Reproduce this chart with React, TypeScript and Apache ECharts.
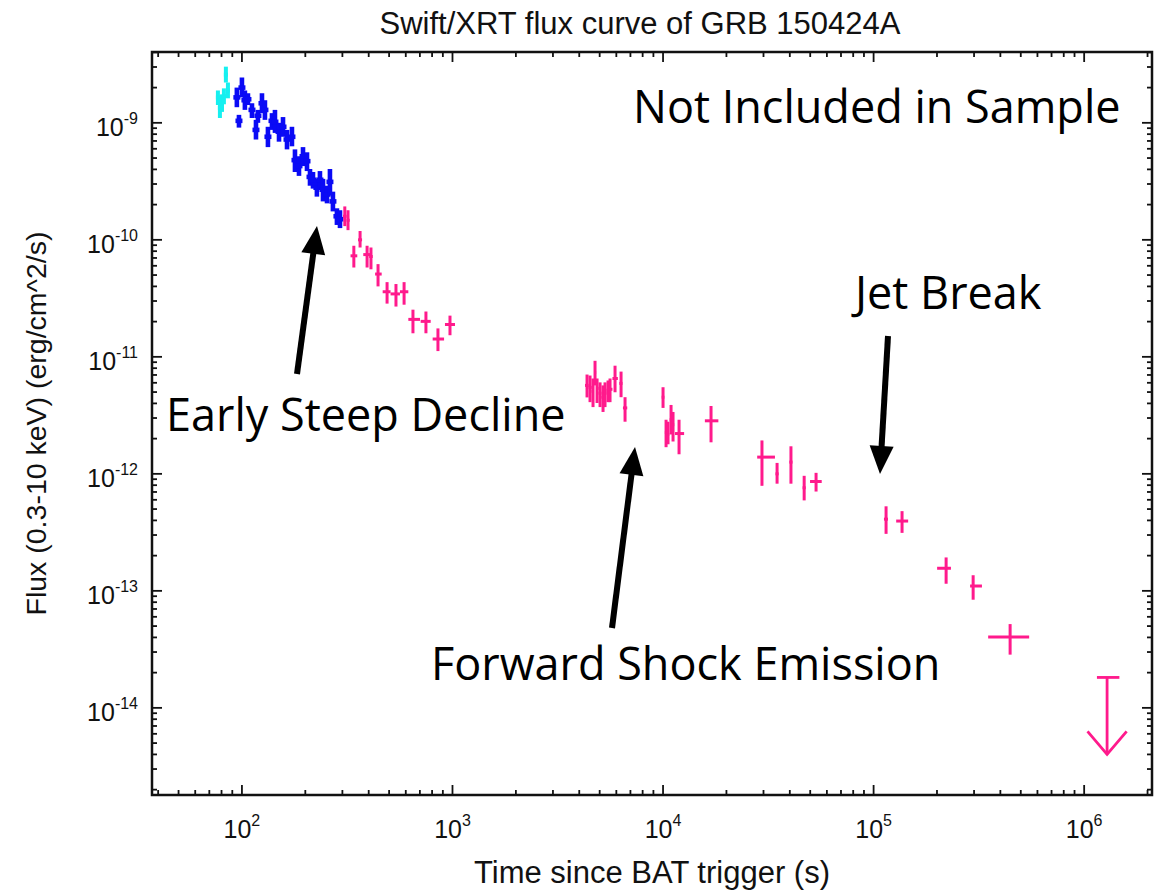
import React, { useEffect, useRef } from "react";
import * as echarts from "echarts";

// Axis ranges (log scales)
const X_MIN = 37.4;
const X_MAX = 2.1e6;
const Y_MIN = 1.8e-15;
const Y_MAX = 4.03e-9;

// Decade ticks
const xMajorTicks = [1e2, 1e3, 1e4, 1e5, 1e6];
const yMajorTicks = [1e-14, 1e-13, 1e-12, 1e-11, 1e-10, 1e-9];

// WT mode (cyan): [time, flux, fluxLow, fluxHigh]
const wtRows = [
  [76.9, 1.65e-9, 1.42e-9, 1.89e-9],
  [78.6, 1.34e-9, 1.1e-9, 1.62e-9],
  [80.4, 1.47e-9, 1.24e-9, 1.75e-9],
  [82.1, 1.69e-9, 1.44e-9, 1.97e-9],
  [83.9, 2.58e-9, 2.21e-9, 3.02e-9],
  [85.8, 1.89e-9, 1.62e-9, 2.21e-9],
];

// WT mode, settled (blue): [time, flux, fluxLow, fluxHigh]
const wtSettleRows = [
  [94.6, 1.65e-9, 1.36e-9, 2.0e-9],
  [96.8, 1.04e-9, 0.91e-9, 1.17e-9],
  [100, 2.0e-9, 1.65e-9, 2.44e-9],
  [103.3, 1.56e-9, 1.29e-9, 1.89e-9],
  [106.8, 1.59e-9, 1.42e-9, 1.79e-9],
  [111.6, 1.29e-9, 1.1e-9, 1.47e-9],
  [116.6, 8.7e-10, 7.2e-10, 1.06e-9],
  [119.1, 1.15e-9, 1.0e-9, 1.29e-9],
  [124.5, 1.47e-9, 1.21e-9, 1.79e-9],
  [128.6, 1.29e-9, 1.06e-9, 1.56e-9],
  [132.9, 7.6e-10, 6.2e-10, 9.25e-10],
  [138.9, 1.04e-9, 8.7e-10, 1.21e-9],
  [143.5, 1.02e-9, 8.2e-10, 1.29e-9],
  [150.0, 8.4e-10, 6.9e-10, 1.0e-9],
  [156.7, 9.25e-10, 7.6e-10, 1.12e-9],
  [163.7, 7.2e-10, 5.93e-10, 8.7e-10],
  [172.8, 7.6e-10, 6.3e-10, 9.25e-10],
  [178.6, 4.8e-10, 3.8e-10, 5.93e-10],
  [186.6, 4.27e-10, 3.52e-10, 5.18e-10],
  [195.0, 5.18e-10, 4.27e-10, 6.2e-10],
  [203.7, 4.7e-10, 3.87e-10, 5.6e-10],
  [210.5, 3.45e-10, 2.9e-10, 4.03e-10],
  [217.5, 3.26e-10, 2.74e-10, 3.8e-10],
  [227.0, 2.79e-10, 2.34e-10, 3.32e-10],
  [234.7, 3.26e-10, 2.74e-10, 3.87e-10],
  [242.7, 2.68e-10, 2.13e-10, 3.32e-10],
  [253.5, 2.44e-10, 2.05e-10, 2.9e-10],
  [261.8, 3.13e-10, 2.39e-10, 4.03e-10],
  [270.5, 2.13e-10, 1.75e-10, 2.58e-10],
  [282.6, 1.59e-10, 1.34e-10, 1.86e-10],
  [292.2, 1.5e-10, 1.26e-10, 1.79e-10],
];

// PC mode (pink): [time, timeLow, timeHigh, flux, fluxLow, fluxHigh]
const pcRows = [
  [308, 302, 314, 1.59e-10, 1.31e-10, 1.93e-10],
  [319, 314, 325, 1.47e-10, 1.21e-10, 1.79e-10],
  [340, 328, 353, 7.3e-11, 5.8e-11, 8.9e-11],
  [364, 356, 372, 1.0e-10, 8.6e-11, 1.19e-10],
  [393, 377, 408, 7.48e-11, 5.8e-11, 8.9e-11],
  [410, 402, 418, 7.2e-11, 5.6e-11, 8.6e-11],
  [443, 429, 461, 5.1e-11, 4.0e-11, 6.2e-11],
  [489, 466, 508, 3.6e-11, 2.85e-11, 4.35e-11],
  [539, 508, 563, 3.45e-11, 2.69e-11, 4.19e-11],
  [589, 563, 617, 3.6e-11, 2.79e-11, 4.35e-11],
  [649, 617, 701, 2.09e-11, 1.59e-11, 2.53e-11],
  [748, 706, 788, 2.01e-11, 1.59e-11, 2.44e-11],
  [853, 805, 912, 1.42e-11, 1.12e-11, 1.75e-11],
  [973, 921, 1028, 1.89e-11, 1.53e-11, 2.25e-11],
  [4355, 4260, 4430, 5.7e-12, 4.5e-12, 7.06e-12],
  [4500, 4430, 4580, 5.48e-12, 4.1e-12, 6.92e-12],
  [4650, 4580, 4700, 5.08e-12, 3.72e-12, 6.53e-12],
  [4753, 4700, 4810, 7.34e-12, 5.7e-12, 9.25e-12],
  [4860, 4810, 4940, 5.38e-12, 4.03e-12, 6.53e-12],
  [5022, 4940, 5100, 4.89e-12, 3.72e-12, 6.05e-12],
  [5188, 5100, 5240, 4.52e-12, 3.38e-12, 5.7e-12],
  [5302, 5240, 5390, 4.89e-12, 3.72e-12, 6.05e-12],
  [5480, 5390, 5540, 5.18e-12, 4.1e-12, 6.28e-12],
  [5600, 5540, 5750, 5.28e-12, 4.1e-12, 6.53e-12],
  [5916, 5750, 6100, 6.53e-12, 4.98e-12, 8.4e-12],
  [6318, 6200, 6420, 5.93e-12, 4.52e-12, 7.48e-12],
  [6600, 6450, 6760, 3.66e-12, 2.79e-12, 4.52e-12],
  [10000, 9850, 10150, 4.52e-12, 3.66e-12, 5.5e-12],
  [10335, 10200, 10450, 2.25e-12, 1.69e-12, 2.9e-12],
  [10560, 10450, 10700, 2.17e-12, 1.79e-12, 2.79e-12],
  [10915, 10750, 11050, 2.9e-12, 2.17e-12, 3.88e-12],
  [11155, 11050, 11300, 2.63e-12, 1.89e-12, 3.38e-12],
  [11912, 11400, 12590, 2.21e-12, 1.47e-12, 2.9e-12],
  [16900, 15800, 18310, 2.84e-12, 1.86e-12, 3.8e-12],
  [29500, 28000, 34000, 1.39e-12, 7.9e-13, 1.93e-12],
  [34800, 34200, 35400, 1.0e-12, 8.24e-13, 1.24e-12],
  [40500, 39800, 41200, 1.26e-12, 8.24e-13, 1.72e-12],
  [46800, 46000, 47600, 7.6e-13, 5.93e-13, 9.62e-13],
  [53300, 49900, 56700, 8.6e-13, 7.06e-13, 1.02e-12],
  [114600, 112000, 117000, 4.1e-13, 3.07e-13, 5.28e-13],
  [136500, 128000, 145900, 3.95e-13, 3.13e-13, 4.8e-13],
  [221000, 200300, 233000, 1.56e-13, 1.15e-13, 1.93e-13],
  [297000, 287300, 327000, 1.1e-13, 8.4e-14, 1.36e-13],
  [445000, 350000, 548000, 4.03e-14, 2.85e-14, 5.2e-14],
];

// PC mode 3-sigma upper limit: [time, timeLow, timeHigh, flux limit, arrow tip]
const upperLimitRows = [[1.285e6, 1.15e6, 1.47e6, 1.82e-14, 4.0e-15]];

const CYAN = "#16f0f0";
const BLUE = "#0a0af5";
const PINK = "#ff1a8c";
const AXIS_FONT = '"Liberation Sans", Arial, Helvetica, sans-serif';
const NOTE_FONT = '"Open Sans", Lato, sans-serif';

// minor ticks at 2..9 within each decade, kept inside the axis range
function minorTicks(majors: number[], lo: number, hi: number) {
  const out: number[] = [];
  const decades = [majors[0] / 10, ...majors];
  for (const d of decades) {
    for (let k = 2; k <= 9; k++) {
      const v = k * d;
      if (v > lo && v < hi) out.push(v);
    }
  }
  return out;
}

function expLabel(v: number) {
  const e = Math.round(Math.log10(v));
  return `{b|10}{s|${e}}`;
}

function arrowShapes(tail: number[], tip: number[], headLen: number, headHalf: number, width: number) {
  const dx = tip[0] - tail[0];
  const dy = tip[1] - tail[1];
  const L = Math.hypot(dx, dy);
  const ux = dx / L;
  const uy = dy / L;
  const bx = tip[0] - ux * headLen;
  const by = tip[1] - uy * headLen;
  const nx = -uy;
  const ny = ux;
  return [
    {
      type: "line",
      shape: { x1: tail[0], y1: tail[1], x2: bx + ux * 3, y2: by + uy * 3 },
      style: { stroke: "#000", lineWidth: width },
    },
    {
      type: "polygon",
      shape: {
        points: [
          [tip[0], tip[1]],
          [bx + nx * headHalf, by + ny * headHalf],
          [bx - nx * headHalf, by - ny * headHalf],
        ],
      },
      style: { fill: "#000" },
    },
  ];
}

export default function App() {
  const ref = useRef<HTMLDivElement>(null);

  useEffect(() => {
    const chart = echarts.init(ref.current!, null, { renderer: "svg" });

    const xTicks = [
      ...minorTicks(xMajorTicks, X_MIN, X_MAX).map((v) => [v, 1e-12, 0]),
      ...xMajorTicks.map((v) => [v, 1e-12, 1]),
    ];
    const yTicks = [
      ...minorTicks(yMajorTicks, Y_MIN, Y_MAX).map((v) => [1000, v, 0]),
      ...yMajorTicks.map((v) => [1000, v, 1]),
    ];

    const vBar = (color: string, lw: number, capHalf: number) => (params: any, api: any) => {
      const t = api.value(0);
      const pMid = api.coord([t, api.value(1)]);
      const pLo = api.coord([t, api.value(2)]);
      const pHi = api.coord([t, api.value(3)]);
      return {
        type: "group",
        children: [
          { type: "line", shape: { x1: pLo[0], y1: pLo[1], x2: pHi[0], y2: pHi[1] }, style: { stroke: color, lineWidth: lw } },
          { type: "line", shape: { x1: pMid[0] - capHalf, y1: pMid[1], x2: pMid[0] + capHalf, y2: pMid[1] }, style: { stroke: color, lineWidth: lw } },
        ],
      };
    };

    const labelRich = {
      b: { fontSize: 25, fontFamily: AXIS_FONT, color: "#111", padding: [8, 0, 0, 0] },
      s: { fontSize: 16, fontFamily: AXIS_FONT, color: "#111", padding: [0, 0, 8, 0] },
    };

    const noteStyle = (text: string) => ({
      text,
      fontSize: 45,
      fontFamily: NOTE_FONT,
      fill: "#000",
      textVerticalAlign: "middle",
    });

    const option: any = {
      animation: false,
      backgroundColor: "#fff",
      grid: {
        left: 152,
        top: 52,
        right: 14,
        bottom: 86,
        show: true,
        borderColor: "#111",
        borderWidth: 2.5,
        backgroundColor: "transparent",
      },
      xAxis: {
        type: "log",
        logBase: 10,
        min: X_MIN,
        max: X_MAX,
        name: "Time since BAT trigger (s)",
        nameLocation: "middle",
        nameGap: 62,
        nameTextStyle: { fontSize: 31, fontFamily: AXIS_FONT, color: "#111" },
        axisLine: { show: false },
        axisTick: { show: false },
        splitLine: { show: false },
        axisLabel: {
          showMinLabel: false,
          showMaxLabel: false,
          margin: 13,
          formatter: expLabel,
          rich: labelRich,
        },
      },
      yAxis: {
        type: "log",
        logBase: 10,
        min: Y_MIN,
        max: Y_MAX,
        name: "Flux (0.3-10 keV) (erg/cm^2/s)",
        nameLocation: "middle",
        nameGap: 102,
        nameRotate: 90,
        nameTextStyle: { fontSize: 28.5, fontFamily: AXIS_FONT, color: "#111" },
        axisLine: { show: false },
        axisTick: { show: false },
        splitLine: { show: false },
        axisLabel: {
          showMinLabel: false,
          showMaxLabel: false,
          margin: 14,
          formatter: expLabel,
          rich: labelRich,
        },
      },
      graphic: [
        {
          type: "text",
          x: 640,
          y: 23,
          style: {
            text: "Swift/XRT flux curve of GRB 150424A",
            fontSize: 31,
            fontFamily: AXIS_FONT,
            fill: "#111",
            textAlign: "center",
            textVerticalAlign: "middle",
          },
        },
        { type: "text", x: 633, y: 105, style: noteStyle("Not Included in Sample") },
        { type: "text", x: 855, y: 291, style: noteStyle("Jet Break") },
        { type: "text", x: 166, y: 413, style: noteStyle("Early Steep Decline") },
        { type: "text", x: 431, y: 662, style: noteStyle("Forward Shock Emission") },
        ...arrowShapes([297, 374], [317, 226], 28, 12, 6),
        ...arrowShapes([612, 628], [635, 447], 28, 12, 6),
        ...arrowShapes([888, 336], [880, 474], 28, 12, 6),
      ],
      series: [
        {
          type: "custom",
          name: "xticks",
          silent: true,
          clip: false,
          data: xTicks,
          renderItem: (params: any, api: any) => {
            const cs = params.coordSys;
            const px = api.coord([api.value(0), api.value(1)])[0];
            const len = api.value(2) ? 10 : 5;
            const top = cs.y;
            const bot = cs.y + cs.height;
            return {
              type: "group",
              children: [
                { type: "line", shape: { x1: px, y1: bot, x2: px, y2: bot - len }, style: { stroke: "#111", lineWidth: 1.8 } },
                { type: "line", shape: { x1: px, y1: top, x2: px, y2: top + len }, style: { stroke: "#111", lineWidth: 1.8 } },
              ],
            };
          },
        },
        {
          type: "custom",
          name: "yticks",
          silent: true,
          clip: false,
          data: yTicks,
          renderItem: (params: any, api: any) => {
            const cs = params.coordSys;
            const py = api.coord([api.value(0), api.value(1)])[1];
            const len = api.value(2) ? 10 : 5;
            const left = cs.x;
            const right = cs.x + cs.width;
            return {
              type: "group",
              children: [
                { type: "line", shape: { x1: left, y1: py, x2: left + len, y2: py }, style: { stroke: "#111", lineWidth: 1.8 } },
                { type: "line", shape: { x1: right, y1: py, x2: right - len, y2: py }, style: { stroke: "#111", lineWidth: 1.8 } },
              ],
            };
          },
        },
        {
          type: "custom",
          name: "WT",
          data: wtRows,
          encode: { x: 0, y: 1 },
          renderItem: vBar(CYAN, 4, 2),
        },
        {
          type: "custom",
          name: "WT settled",
          data: wtSettleRows,
          encode: { x: 0, y: 1 },
          renderItem: vBar(BLUE, 4.6, 3.5),
        },
        {
          type: "custom",
          name: "PC",
          data: pcRows,
          encode: { x: 0, y: 3 },
          renderItem: (params: any, api: any) => {
            const t = api.value(0);
            const f = api.value(3);
            const pL = api.coord([api.value(1), f]);
            const pR = api.coord([api.value(2), f]);
            const pLo = api.coord([t, api.value(4)]);
            const pHi = api.coord([t, api.value(5)]);
            return {
              type: "group",
              children: [
                { type: "line", shape: { x1: pLo[0], y1: pLo[1], x2: pHi[0], y2: pHi[1] }, style: { stroke: PINK, lineWidth: 3 } },
                { type: "line", shape: { x1: pL[0], y1: pL[1], x2: pR[0], y2: pR[1] }, style: { stroke: PINK, lineWidth: 3 } },
              ],
            };
          },
        },
        {
          type: "custom",
          name: "PC upper limit",
          data: upperLimitRows,
          encode: { x: 0, y: 3 },
          renderItem: (params: any, api: any) => {
            const t = api.value(0);
            const f = api.value(3);
            const pL = api.coord([api.value(1), f]);
            const pR = api.coord([api.value(2), f]);
            const pTop = api.coord([t, f]);
            const pTip = api.coord([t, api.value(4)]);
            const head = 23;
            const st = { stroke: PINK, lineWidth: 2.8, fill: "none" };
            return {
              type: "group",
              children: [
                { type: "line", shape: { x1: pL[0], y1: pL[1], x2: pR[0], y2: pR[1] }, style: st },
                { type: "line", shape: { x1: pTop[0], y1: pTop[1], x2: pTip[0], y2: pTip[1] }, style: st },
                {
                  type: "polyline",
                  shape: {
                    points: [
                      [pTip[0] - head * 0.85, pTip[1] - head],
                      [pTip[0], pTip[1]],
                      [pTip[0] + head * 0.85, pTip[1] - head],
                    ],
                  },
                  style: st,
                },
              ],
            };
          },
        },
      ],
    };

    chart.setOption(option);
    return () => chart.dispose();
  }, []);

  return (
    <div
      ref={ref}
      style={{ position: "fixed", left: 0, top: 0, width: 1166, height: 893, background: "#fff" }}
    />
  );
}
